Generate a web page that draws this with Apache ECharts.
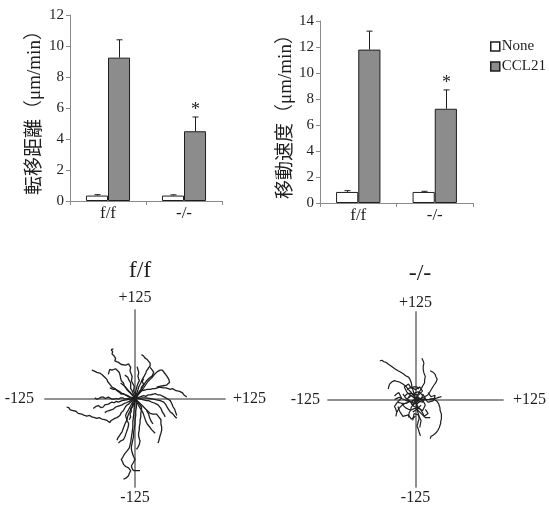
<!DOCTYPE html>
<html><head><meta charset="utf-8">
<script src="https://cdn.jsdelivr.net/npm/echarts@6/dist/echarts.min.js"></script>
<style>html,body{margin:0;padding:0;background:#fff;}#c{width:549px;height:509px;}</style>
</head><body><div id="c"></div>
<script>
// ---- data ----
const categories = ['f/f', '-/-'];
const seriesNames = ['None', 'CCL21'];
// migration distance (μm/min)
const distNone = [0.35, 0.35];
const distNoneErr = [0.06, 0.05];
const distCCL = [9.25, 4.5];
const distCCLErr = [1.15, 0.92];
const distSig = [0, 1];
// migration velocity (μm/min)
const velNone = [0.85, 0.85];
const velNoneErr = [0.1, 0.05];
const velCCL = [11.8, 7.25];
const velCCLErr = [1.42, 1.45];
const velSig = [0, 1];
const distTicks = {min: 0, max: 12, interval: 2};
const velTicks = {min: 0, max: 14, interval: 2};
const distName = '転移距離（μm/min）';
const velName = '移動速度（μm/min）';
const trackTitles = ['f/f', '-/-'];
const trackLimit = 125;
const trackLabels = ['+125', '-125'];
// cell tracks (μm), f/f
const tracksFF = [
  [[0,0],[1,5],[-2,11],[-1,17],[-5,25],[-4,31],[-7,39],[-6,44],[-9,49],[-13,47],[-19,48],[-23,51],[-28,53],[-27,57],[-29,60],[-32,63],[-31,66],[-33,69],[-30,70]],
  [[-60,40],[-58,42],[-57,39],[-53,37],[-51,39],[-49,36],[-46,34],[-44,35],[-42,30],[-40,29],[-39,27],[-38,24],[-37,23],[-34,19],[-32,16],[-28,14],[-27,12],[-25,11],[-22,9],[-19,6],[-16,7],[-13,5],[-10,3],[-7,2],[-3,1],[0,0]],
  [[-37,34],[-36,38],[-35,41],[-32,40],[-30,39],[-27,42],[-25,41],[-22,37],[-21,34],[-20,29],[-19,25],[-16,22],[-15,18],[-14,16],[-11,12],[-8,9],[-4,5],[0,0]],
  [[-56,1],[-53,-1],[-50,0],[-47,2],[-44,2],[-41,0],[-39,0],[-37,2],[-35,1],[-32,-1],[-29,-1],[-26,0],[-23,-1],[-20,1],[-17,1],[-14,-1],[-12,0],[-6,1],[0,0]],
  [[-58,-14],[-56,-12],[-54,-11],[-52,-12],[-51,-10],[-49,-11],[-47,-13],[-45,-11],[-44,-12],[-42,-9],[-40,-8],[-37,-8],[-35,-7],[-32,-5],[-29,-6],[-26,-4],[-23,-5],[-18,-3],[-12,-2],[-6,-1],[0,0]],
  [[-95,-12],[-94,-14],[-92,-13],[-90,-16],[-88,-16],[-86,-17],[-84,-19],[-82,-18],[-79,-21],[-77,-20],[-74,-22],[-70,-24],[-67,-25],[-63,-24],[-60,-26],[-56,-27],[-53,-28],[-50,-27],[-46,-29],[-42,-30],[-39,-31],[-37,-33],[-35,-34],[-33,-31],[-31,-30],[-28,-28],[-25,-27],[-21,-24],[-19,-20],[-16,-17],[-14,-13],[-12,-10],[-9,-8],[-6,-5],[-3,-2],[0,0]],
  [[-23,-63],[-21,-61],[-20,-60],[-18,-59],[-16,-58],[-15,-56],[-14,-54],[-13,-51],[-12,-49],[-11,-45],[-10,-42],[-9,-38],[-9,-35],[-11,-31],[-12,-28],[-13,-24],[-12,-21],[-9,-16],[-7,-12],[-4,-7],[0,0]],
  [[-16,-114],[-14,-113],[-12,-112],[-10,-111],[-9,-109],[-8,-106],[-8,-104],[-6,-102],[-7,-100],[-9,-98],[-11,-97],[-13,-96],[-14,-95],[-16,-93],[-17,-90],[-18,-88],[-19,-86],[-17,-83],[-16,-81],[-15,-79],[-14,-77],[-11,-74],[-9,-72],[-8,-70],[-7,-68],[-6,-62],[-5,-55],[-4,-48],[-3,-40],[-3,-33],[-2,-25],[-1,-12],[0,0]],
  [[7,-102],[5,-103],[2,-102],[0,-103],[-2,-102],[-4,-99],[-5,-95],[-3,-93],[-2,-90],[-1,-88],[0,-86],[-2,-82],[-3,-79],[-4,-76],[-5,-72],[-5,-68],[-4,-63],[-3,-58],[-2,-54],[-2,-48],[-1,-42],[0,-36],[0,-31],[1,-24],[1,-18],[2,-12],[2,-7],[0,0]],
  [[32,-63],[33,-60],[34,-56],[35,-52],[36,-49],[37,-45],[37,-40],[36,-36],[36,-33],[36,-30],[35,-28],[33,-26],[31,-24],[30,-22],[28,-21],[25,-22],[21,-21],[18,-18],[14,-14],[10,-10],[6,-6],[3,-3],[0,0]],
  [[28,-49],[26,-47],[23,-44],[21,-41],[19,-40],[17,-36],[15,-32],[13,-26],[11,-20],[8,-15],[5,-10],[2,-4],[0,0]],
  [[58,-28],[56,-26],[55,-25],[54,-23],[53,-23],[52,-21],[51,-21],[50,-19],[49,-19],[47,-16],[46,-15],[45,-13],[44,-12],[43,-9],[41,-7],[40,-5],[39,-3],[35,-3],[30,-2],[25,-1],[20,0],[15,1],[10,1],[5,0],[0,0]],
  [[2,-72],[4,-69],[5,-67],[6,-65],[7,-63],[7,-60],[6,-57],[5,-53],[5,-49],[6,-44],[6,-40],[7,-35],[7,-31],[8,-26],[8,-21],[9,-16],[9,-12],[6,-8],[4,-5],[0,0]],
  [[9,62],[11,61],[12,60],[13,58],[14,57],[16,56],[17,55],[18,54],[19,53],[21,50],[21,46],[19,44],[18,42],[17,40],[16,39],[15,36],[14,34],[13,32],[12,30],[10,27],[9,25],[8,22],[7,20],[5,16],[4,12],[3,9],[2,6],[0,0]],
  [[30,16],[32,17],[34,17],[36,19],[39,18],[41,20],[44,19],[45,21],[46,20],[48,23],[49,25],[47,27],[46,29],[44,32],[42,34],[41,36],[40,38],[38,40],[37,41],[35,40],[33,39],[31,38],[30,37],[27,34],[24,30],[21,27],[18,24],[14,18],[10,12],[5,6],[0,0]],
  [[72,2],[71,3],[70,4],[68,5],[67,6],[66,8],[64,9],[62,10],[60,11],[57,11],[55,12],[52,14],[49,13],[46,14],[43,15],[39,15],[35,16],[31,15],[28,14],[25,14],[21,13],[17,13],[14,12],[10,11],[7,11],[3,6],[0,0]],
  [[58,-24],[57,-21],[56,-19],[55,-15],[53,-12],[52,-10],[51,-7],[50,-5],[49,-3],[46,-1],[44,1],[41,2],[39,4],[35,5],[32,5],[28,7],[25,6],[21,5],[18,5],[15,3],[12,4],[6,2],[0,0]],
  [[42,-26],[41,-24],[40,-22],[38,-19],[37,-17],[36,-14],[34,-12],[32,-9],[30,-7],[26,-6],[23,-5],[19,-3],[16,-3],[12,-2],[8,-1],[4,0],[0,0]],
  [[21,44],[23,42],[24,40],[26,37],[26,35],[24,32],[22,30],[20,29],[18,28],[16,25],[14,22],[11,17],[8,12],[4,6],[0,0]],
  [[-14,33],[-12,32],[-10,30],[-9,27],[-8,25],[-6,22],[-5,20],[-6,17],[-6,14],[-4,11],[-3,8],[-1,4],[0,0]],
  [[3,45],[4,41],[5,38],[5,35],[4,32],[5,28],[6,25],[4,21],[3,18],[2,14],[1,10],[1,5],[0,0]],
  [[-25,-59],[-24,-56],[-22,-53],[-20,-50],[-18,-47],[-17,-44],[-16,-42],[-15,-39],[-14,-36],[-12,-32],[-11,-29],[-10,-25],[-9,-22],[-7,-18],[-5,-14],[-3,-11],[-2,-8],[-1,-4],[0,0]],
  [[-35,15],[-33,14],[-30,13],[-27,13],[-23,11],[-21,9],[-19,8],[-17,7],[-16,6],[-13,5],[-10,4],[-8,3],[-7,2],[-3,1],[0,0]],
  [[-42,-20],[-39,-18],[-36,-17],[-33,-16],[-30,-15],[-27,-12],[-24,-11],[-21,-10],[-18,-9],[-15,-7],[-12,-6],[-8,-4],[-5,-2],[0,0]],
  [[16,-17],[17,-19],[19,-22],[20,-26],[21,-29],[22,-31],[23,-33],[24,-35],[25,-36]],
  [[-20,22],[-18,21],[-15,18],[-13,16],[-12,15],[-10,12],[-8,10],[-6,8],[-4,6],[-2,3],[0,0]],
  [[-8,-30],[-6,-26],[-7,-22],[-5,-18],[-6,-14],[-3,-10],[-4,-6],[-1,-3],[0,0]],
  [[12,28],[10,24],[12,20],[9,16],[8,12],[6,9],[4,5],[2,2],[0,0]]
];
// cell tracks (μm), -/-
const tracksKO = [
  [[-51,55],[-49,57],[-48,56],[-46,55],[-45,54],[-43,54],[-42,53],[-40,51],[-38,50],[-36,49],[-35,48],[-33,46],[-31,45],[-28,43],[-25,41],[-23,40],[-21,39],[-18,37],[-16,36],[-14,34],[-12,33],[-10,32],[-9,31],[-8,29],[-7,27],[-6,24],[-5,22],[-5,18],[-4,15],[-3,11],[-2,8],[-1,4],[0,0]],
  [[-39,15],[-38,17],[-38,19],[-37,22],[-36,24],[-34,25],[-32,26],[-30,27],[-27,26],[-25,25],[-23,25],[-21,24],[-18,22],[-16,21],[-14,19],[-12,17],[-10,14],[-8,12],[-6,10],[-5,8],[-2,4],[0,0]],
  [[9,59],[10,57],[11,55],[12,52],[12,50],[11,47],[10,45],[11,43],[10,41],[12,38],[13,36],[14,33],[14,31],[13,28],[12,26],[13,24],[12,22],[10,19],[9,17],[8,15],[7,13],[5,10],[4,8],[3,6],[2,4],[0,0]],
  [[21,41],[23,40],[25,39],[27,38],[28,36],[29,33],[30,31],[31,29],[30,27],[29,24],[28,22],[26,20],[25,18],[23,15],[22,13],[20,10],[19,8],[17,6],[15,5],[13,4],[12,3],[6,1],[0,0]],
  [[21,-56],[21,-54],[22,-53],[23,-52],[25,-51],[27,-50],[29,-48],[30,-47],[32,-44],[33,-42],[34,-40],[35,-38],[36,-34],[36,-31],[37,-28],[37,-24],[37,-21],[36,-18],[35,-15],[35,-12],[34,-9],[33,-6],[31,-3],[30,-1],[27,0],[24,1],[19,0],[14,0],[7,1],[0,0]],
  [[37,4],[35,3],[33,3],[30,2],[28,2],[25,1],[22,1],[19,0],[16,0],[13,1],[10,0],[7,0],[5,0],[2,1],[0,0]],
  [[-28,-24],[-28,-22],[-27,-19],[-26,-17],[-25,-15],[-24,-13],[-22,-11],[-21,-9],[-19,-8],[-16,-6],[-14,-5],[-11,-4],[-9,-3],[-5,-2],[0,0]],
  [[7,-52],[6,-49],[5,-46],[4,-42],[2,-38],[3,-35],[4,-31],[5,-28],[5,-24],[4,-20],[3,-17],[3,-13],[2,-10],[1,-5],[0,0]],
  [[-15,5],[-12,8],[-10,10],[-6,9],[-3,7],[0,10],[4,11],[7,9],[10,6],[9,2],[8,-2],[5,-4],[2,-6],[-2,-5],[-6,-4],[-9,-2],[-12,0],[-10,3],[-8,6]],
  [[-20,-5],[-17,-9],[-14,-12],[-10,-14],[-6,-15],[-2,-13],[3,-12],[7,-14],[10,-16],[12,-12],[14,-8],[12,-4],[9,0],[5,2],[2,3]],
  [[5,15],[2,18],[0,20],[-3,18],[-6,16],[-8,19],[-10,22],[-13,20],[-16,18],[-14,14],[-12,10],[-8,7],[-4,4]],
  [[-25,-10],[-24,-14],[-22,-18],[-20,-21],[-18,-24],[-14,-23],[-10,-22],[-8,-25],[-6,-28],[-3,-26],[0,-24]],
  [[18,10],[20,7],[22,4],[25,5],[28,6],[27,2],[25,-2],[21,-3],[18,-4],[15,-1],[12,2]],
  [[-4,-30],[-3,-25],[-2,-20],[1,-21],[4,-22],[6,-26],[8,-30],[7,-35],[6,-40]],
  [[-30,5],[-27,8],[-24,10],[-22,6],[-20,2],[-23,-1],[-26,-4],[-28,-7],[-30,-10],[-28,-14],[-27,-18]],
  [[-30,0],[-28,1],[-26,2],[-25,3],[-23,3],[-21,2],[-19,1],[-17,1],[-16,0],[-14,-1],[-12,-2],[-10,-2],[-9,-3],[-11,-4],[-12,-5],[-14,-5],[-16,-6],[-18,-5],[-21,-5],[-23,-4],[-25,-4]],
  [[21,-26],[19,-27],[17,-26],[15,-25],[14,-26],[12,-23],[11,-21],[10,-19],[9,-17],[7,-14],[5,-12],[3,-10],[2,-8],[1,-4],[0,0]],
  [[-9,-26],[-10,-23],[-9,-21],[-9,-19],[-8,-17],[-7,-15],[-6,-13],[-6,-11],[-5,-10],[-3,-7],[-2,-5],[-1,-2],[0,0]],
  [[-12,14],[-9,16],[-6,18],[-3,16],[0,14],[3,16],[6,18],[8,15],[10,12],[7,9],[4,6],[1,7],[-2,8]],
  [[14,-14],[16,-17],[18,-20],[15,-22],[12,-24],[9,-21],[6,-18],[4,-16],[2,-14],[-1,-16],[-4,-18]],
  [[-18,8],[-14,2],[-8,-2],[-4,-8],[2,-4],[6,0],[4,4],[-2,2],[-6,6],[-10,2]],
  [[8,-8],[4,-12],[-2,-10],[-6,-6],[-2,0],[4,-2],[10,-4],[14,2],[10,8]]
];

// ---- chart ----
const chart = echarts.init(document.getElementById('c'), null, {renderer: 'canvas'});
const serif = 'Liberation Serif';
const dark = '#1e1e1e';
const axisGrey = '#8a8a8a';
const catGapPct = 0.42;

function errSeries(gridIdx, vals, errs, sigs, side) {
  return {
    type: 'custom', xAxisIndex: gridIdx, yAxisIndex: gridIdx, z: 5, silent: true,
    data: vals.map((v, i) => [i, v, errs[i], sigs ? sigs[i] : 0]),
    renderItem: function (params, api) {
      const ci = api.value(0), v = api.value(1), e = api.value(2), s = api.value(3);
      const band = api.size([1, 0])[0];
      const barW = band * (1 - catGapPct) / 2;
      const p0 = api.coord([ci, v]);
      const p1 = api.coord([ci, v + e]);
      const x = Math.round(p0[0] + side * barW / 2) + 0.5;
      const children = [
        {type: 'line', shape: {x1: x, y1: p0[1], x2: x, y2: p1[1]}, style: {stroke: dark, lineWidth: 1}},
        {type: 'line', shape: {x1: x - 3, y1: p1[1], x2: x + 3, y2: p1[1]}, style: {stroke: dark, lineWidth: 1}}
      ];
      if (s) {
        children.push({type: 'text', style: {text: '*', x: x, y: p1[1] + 2, align: 'center', verticalAlign: 'bottom', font: '18px ' + serif, fill: dark}});
      }
      return {type: 'group', children: children};
    }
  };
}

function barSeries(gridIdx, name, vals, color) {
  return {
    type: 'bar', name: name, xAxisIndex: gridIdx, yAxisIndex: gridIdx, data: vals,
    barGap: '0%', barCategoryGap: (catGapPct * 100) + '%',
    itemStyle: {color: color, borderColor: dark, borderWidth: 1},
    emphasis: {disabled: true}
  };
}

function catAxis(gridIdx) {
  return {
    type: 'category', gridIndex: gridIdx, data: categories,
    axisLine: {lineStyle: {color: axisGrey, width: 1}},
    axisTick: {show: true, length: 4, lineStyle: {color: axisGrey}},
    axisLabel: {fontFamily: serif, fontSize: 17, color: dark, margin: 4}
  };
}
function valAxis(gridIdx, t, name, gap) {
  return {
    type: 'value', gridIndex: gridIdx, min: t.min, max: t.max, interval: t.interval,
    name: name, nameLocation: 'middle', nameGap: gap, nameRotate: 90,
    nameTextStyle: {fontFamily: serif + ', Noto Sans CJK JP', fontSize: 19, color: dark},
    axisLine: {show: true, lineStyle: {color: axisGrey, width: 1}},
    axisTick: {show: true, length: 4, lineStyle: {color: axisGrey}},
    splitLine: {show: false},
    axisLabel: {fontFamily: serif, fontSize: 15, color: dark, margin: 6}
  };
}

function trackAxis(gridIdx, name, loc, gap) {
  return {
    type: 'value', gridIndex: gridIdx, min: -trackLimit, max: trackLimit,
    name: name, nameLocation: loc, nameGap: gap,
    nameTextStyle: {fontFamily: serif, fontSize: 16, color: dark},
    axisLine: {show: true, onZero: true, lineStyle: {color: axisGrey, width: 1.5}},
    axisTick: {show: false}, axisLabel: {show: false}, splitLine: {show: false}
  };
}

const series = [
  barSeries(0, seriesNames[0], distNone, '#ffffff'),
  barSeries(0, seriesNames[1], distCCL, '#8c8c8c'),
  errSeries(0, distNone, distNoneErr, null, -1),
  errSeries(0, distCCL, distCCLErr, distSig, 1),
  barSeries(1, seriesNames[0], velNone, '#ffffff'),
  barSeries(1, seriesNames[1], velCCL, '#8c8c8c'),
  errSeries(1, velNone, velNoneErr, null, -1),
  errSeries(1, velCCL, velCCLErr, velSig, 1)
];
tracksFF.forEach(t => series.push({type: 'line', data: t, xAxisIndex: 2, yAxisIndex: 2, symbol: 'none', silent: true, lineStyle: {color: dark, width: 1.3}}));
tracksKO.forEach(t => series.push({type: 'line', data: t, xAxisIndex: 4, yAxisIndex: 4, symbol: 'none', silent: true, lineStyle: {color: dark, width: 1.2}}));

const option = {
  animation: false,
  backgroundColor: '#ffffff',
  textStyle: {fontFamily: serif},
  title: [
    {text: trackTitles[0], left: 135, top: 254, textAlign: 'center', textStyle: {fontFamily: serif, fontSize: 24, fontWeight: 'normal', color: dark}},
    {text: trackTitles[1], left: 415, top: 257, textAlign: 'center', textStyle: {fontFamily: serif, fontSize: 24, fontWeight: 'normal', color: dark}}
  ],
  legend: {
    data: seriesNames, orient: 'vertical', left: 485, top: 34, itemWidth: 9, itemHeight: 9, itemGap: 5,
    icon: 'rect', selectedMode: false,
    itemStyle: {borderWidth: 1.5},
    textStyle: {fontFamily: serif, fontSize: 15, color: dark, padding: [0, 0, 0, -3]}
  },
  grid: [
    {left: 70, top: 15, width: 152, height: 186},
    {left: 320, top: 21, width: 153, height: 182},
    {left: 45, top: 310, width: 180, height: 177},
    {left: 328, top: 312, width: 175, height: 175}
  ],
  xAxis: [
    catAxis(0), catAxis(1),
    trackAxis(2, trackLabels[0], 'end', 8), trackAxis(2, trackLabels[1], 'start', 11),
    trackAxis(3, trackLabels[0], 'end', 10), trackAxis(3, trackLabels[1], 'start', 8)
  ],
  yAxis: [
    valAxis(0, distTicks, distName, 25),
    valAxis(1, velTicks, velName, 23),
    trackAxis(2, trackLabels[0], 'end', 4), trackAxis(2, trackLabels[1], 'start', 3),
    trackAxis(3, trackLabels[0], 'end', 1), trackAxis(3, trackLabels[1], 'start', 3)
  ],
  series: series
};
chart.setOption(option);
</script></body></html>
